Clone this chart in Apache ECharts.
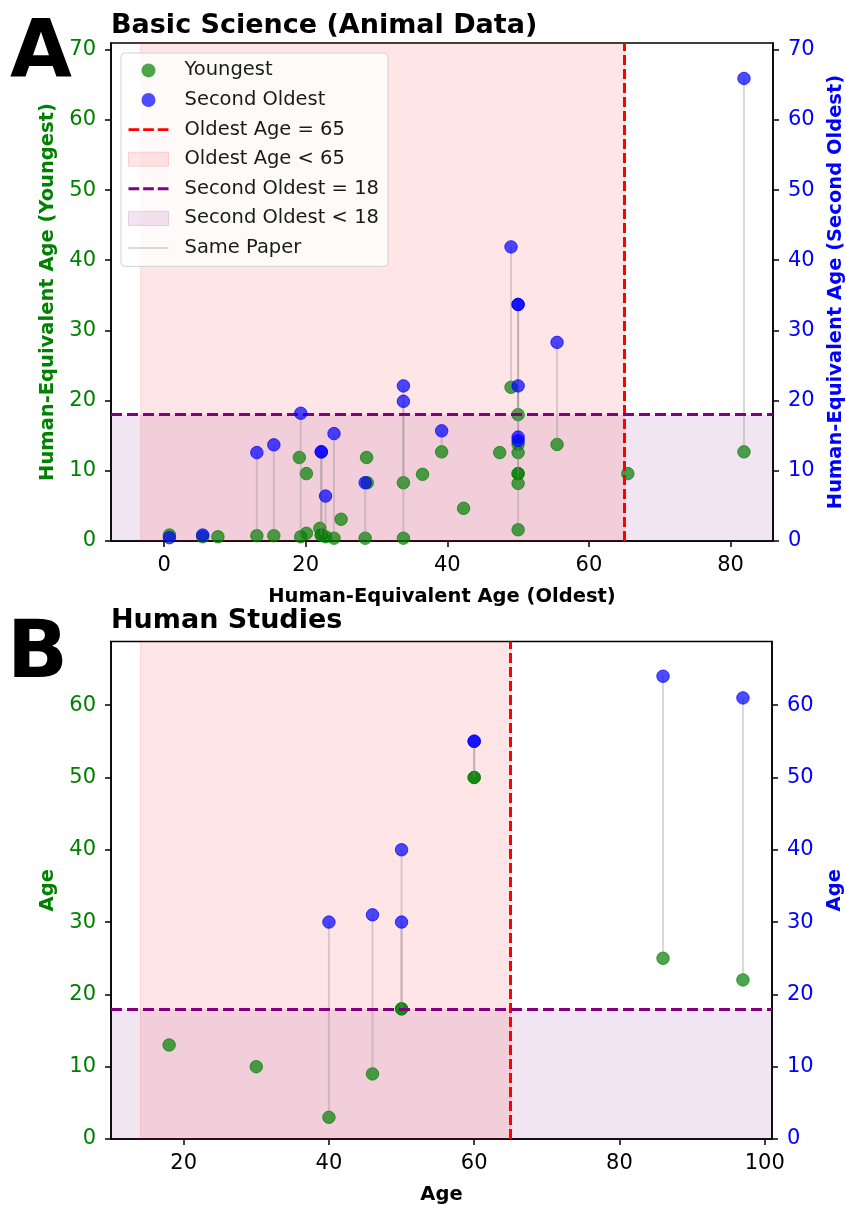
<!DOCTYPE html>
<html><head><meta charset="utf-8">
<script src="https://cdn.jsdelivr.net/npm/echarts@6/dist/echarts.min.js"></script>
<style>html,body{margin:0;padding:0;background:#fff}#c{width:846px;height:1206px}</style>
</head><body><div id="c"></div><script>
// ---- Panel A: Basic Science (Animal Data) ----
const animalOldest   = [0.75,5.45,7.6,13.1,15.5,19.3,19.1,20.1,20.1,22.0,22.2,22.2,22.8,24.0,25.0,28.6,28.7,28.4,33.8,33.8,36.5,39.2,42.3,47.4,49.0,50.0,50.0,50.0,50.0,50.0,50.0,50.0,55.5,65.5,81.9];
const animalYoungest = [0.85,0.6,0.6,0.75,0.75,0.6,11.9,9.6,1.1,1.8,0.85,0.85,0.6,0.4,3.1,11.9,8.3,0.4,0.4,8.3,9.5,12.7,4.65,12.6,21.9,1.6,18.0,13.8,12.6,9.6,9.6,8.2,13.75,9.6,12.7];
const animalSecond   = [0.47,0.85,null,12.6,13.7,18.2,null,null,null,null,12.7,12.7,6.4,15.3,null,null,null,8.3,22.1,19.9,null,15.7,null,null,41.9,33.7,33.7,22.1,14.8,14.3,null,null,28.3,null,65.9];
// ---- Panel B: Human Studies ----
const humanOldest   = [18,30,40,46,50,50,60,60,86,97];
const humanYoungest = [13,10,3,9,18,18,50,50,25,22];
const humanSecond   = [null,null,30,31,40,30,55,55,64,61];
// ticks
const xTicksA = [0,20,40,60,80];
const yTicksA = [0,10,20,30,40,50,60,70];
const xTicksB = [20,40,60,80,100];
const yTicksB = [0,10,20,30,40,50,60];
// thresholds
const oldestThreshold = 65;
const secondThreshold = 18;

const FONT = 'DejaVu Sans';
const GREEN = '#008000', BLUE = '#0000ff';
const GREEN_A = 'rgba(0,128,0,0.7)', BLUE_A = 'rgba(0,0,255,0.7)';

function build(oldest, young, second) {
  const y = oldest.map((x,i)=>[x, young[i]]);
  const s = [], p = [];
  oldest.forEach((x,i)=>{ if (second[i]!=null){ s.push([x, second[i]]); p.push([x, young[i], second[i]]); } });
  return {y, s, p};
}
const A = build(animalOldest, animalYoungest, animalSecond);
const B = build(humanOldest, humanYoungest, humanSecond);

function xAxis(gi, min, max, ticks, name) {
  return {
    gridIndex: gi, type: 'value', min, max, name, nameLocation: 'middle', nameGap: 46,
    nameTextStyle: {fontFamily: FONT, fontWeight: 'bold', fontSize: 19.5, color: '#000'},
    axisLine: {onZero: false, lineStyle: {color: '#000', width: 1.5}},
    axisTick: {customValues: ticks, length: 6, lineStyle: {color: '#000', width: 1.5}},
    axisLabel: {customValues: ticks, fontFamily: FONT, fontSize: 21, color: '#000', margin: 14},
    splitLine: {show: false}
  };
}
function yAxis(gi, pos, max, ticks, name, color) {
  return {
    gridIndex: gi, type: 'value', position: pos, min: 0, max, name, nameLocation: 'middle', nameGap: 52,
    nameTextStyle: {fontFamily: FONT, fontWeight: 'bold', fontSize: 19.5, color},
    axisLine: {show: true, onZero: false, lineStyle: {color: '#000', width: 1.5}},
    axisTick: {show: true, customValues: ticks, length: 6, lineStyle: {color: '#000', width: 1.5}},
    axisLabel: {customValues: ticks, fontFamily: FONT, fontSize: 21, color, margin: 15},
    splitLine: {show: false}
  };
}

function panelSeries(pi, D, spanStart) {
  const xi = pi, yl = pi*2, yr = pi*2+1;
  return [
    {name: 'Oldest Age < 65', type: 'scatter', xAxisIndex: xi, yAxisIndex: yl, data: [], z: 1,
     markArea: {silent: true, itemStyle: {color: 'rgba(255,0,0,0.1)', borderColor: 'rgba(255,0,0,0.12)', borderWidth: 1},
       data: [[{xAxis: spanStart}, {xAxis: oldestThreshold}]]}},
    {name: 'Second Oldest < 18', type: 'scatter', xAxisIndex: xi, yAxisIndex: yl, data: [], z: 1,
     markArea: {silent: true, itemStyle: {color: 'rgba(128,0,128,0.1)', borderWidth: 0},
       data: [[{yAxis: 0}, {yAxis: secondThreshold}]]}},
    {name: 'Oldest Age = 65', type: 'scatter', xAxisIndex: xi, yAxisIndex: yl, data: [], z: 2,
     markLine: {silent: true, symbol: 'none', label: {show: false},
       lineStyle: {color: '#ff0000', width: 3, type: [10, 4]}, data: [{xAxis: oldestThreshold}]}},
    {name: 'Second Oldest = 18', type: 'scatter', xAxisIndex: xi, yAxisIndex: yl, data: [], z: 2,
     markLine: {silent: true, symbol: 'none', label: {show: false},
       lineStyle: {color: '#800080', width: 3, type: [11, 5]}, data: [{yAxis: secondThreshold}]}},
    {name: 'Youngest', type: 'scatter', xAxisIndex: xi, yAxisIndex: yl, data: D.y, z: 3,
     symbolSize: 12.5, itemStyle: {color: GREEN_A, borderColor: GREEN_A, borderWidth: 1, opacity: 1}},
    {name: 'Same Paper', type: 'custom', xAxisIndex: xi, yAxisIndex: yl, data: D.p, z: 4,
     encode: {x: 0, y: [1, 2]},
     renderItem: function (params, api) {
       const a = api.coord([api.value(0), api.value(1)]);
       const b = api.coord([api.value(0), api.value(2)]);
       return {type: 'line', shape: {x1: a[0], y1: a[1], x2: b[0], y2: b[1]},
               style: {stroke: 'rgba(128,128,128,0.3)', lineWidth: 2}};
     }},
    {name: 'Second Oldest', type: 'scatter', xAxisIndex: xi, yAxisIndex: yr, data: D.s, z: 5,
     symbolSize: 12.5, itemStyle: {color: BLUE_A, borderColor: BLUE_A, borderWidth: 1, opacity: 1}}
  ];
}

const dash = 'path://M0,0H11V3H0Z M15,0H26V3H15Z M30,0H41V3H30Z';
const option = {
  animation: false,
  backgroundColor: '#fff',
  title: [
    {text: 'A', left: 10, top: 16, padding: 0, textStyle: {fontFamily: FONT, fontWeight: 'bold', fontSize: 80, lineHeight: 80, color: '#000'}},
    {text: 'Basic Science (Animal Data)', left: 111, top: 12, padding: 0, textStyle: {fontFamily: FONT, fontWeight: 'bold', fontSize: 27, lineHeight: 27, color: '#000'}},
    {text: 'B', left: 7, top: 616, padding: 0, textStyle: {fontFamily: FONT, fontWeight: 'bold', fontSize: 80, lineHeight: 80, color: '#000'}},
    {text: 'Human Studies', left: 111, top: 607, padding: 0, textStyle: {fontFamily: FONT, fontWeight: 'bold', fontSize: 27, lineHeight: 27, color: '#000'}}
  ],
  grid: [
    {left: 111, top: 43, width: 662, height: 498, show: true, borderColor: '#000', borderWidth: 1.5, backgroundColor: 'transparent', containLabel: false, outerBoundsMode: 'none'},
    {left: 111, top: 641.5, width: 661, height: 497.5, show: true, borderColor: '#000', borderWidth: 1.5, backgroundColor: 'transparent', containLabel: false, outerBoundsMode: 'none'}
  ],
  xAxis: [
    xAxis(0, -7.5, 86.0, xTicksA, 'Human-Equivalent Age (Oldest)'),
    xAxis(1, 10, 101, xTicksB, 'Age')
  ],
  yAxis: [
    yAxis(0, 'left', 70.95, yTicksA, 'Human-Equivalent Age (Youngest)', GREEN),
    yAxis(0, 'right', 70.95, yTicksA, 'Human-Equivalent Age (Second Oldest)', BLUE),
    yAxis(1, 'left', 68.8, yTicksB, 'Age', GREEN),
    yAxis(1, 'right', 68.8, yTicksB, 'Age', BLUE)
  ],
  legend: {
    orient: 'vertical', left: 121, top: 53, itemWidth: 40, itemHeight: 14, itemGap: 9.6,
    padding: [7.4, 9, 8.4, 7], backgroundColor: 'rgba(255,255,255,0.8)', borderColor: '#d3d3d3',
    borderWidth: 1, borderRadius: 4, selectedMode: false, symbolKeepAspect: true,
    textStyle: {fontFamily: FONT, fontSize: 19.5, lineHeight: 20, color: '#1a1a1a', padding: [0, 0, 0, 11]},
    data: [
      {name: 'Youngest', icon: 'circle', itemStyle: {color: GREEN_A, borderWidth: 0, opacity: 1}},
      {name: 'Second Oldest', icon: 'circle', itemStyle: {color: BLUE_A, borderWidth: 0, opacity: 1}},
      {name: 'Oldest Age = 65', icon: dash, itemStyle: {color: '#ff0000', borderWidth: 0, opacity: 1}},
      {name: 'Oldest Age < 65', icon: 'rect', itemStyle: {color: 'rgba(255,0,0,0.1)', borderColor: 'rgba(255,0,0,0.15)', borderWidth: 1, opacity: 1}},
      {name: 'Second Oldest = 18', icon: dash, itemStyle: {color: '#800080', borderWidth: 0, opacity: 1}},
      {name: 'Second Oldest < 18', icon: 'rect', itemStyle: {color: 'rgba(128,0,128,0.1)', borderColor: 'rgba(128,0,128,0.15)', borderWidth: 1, opacity: 1}},
      {name: 'Same Paper', icon: 'path://M0,0H40V2H0Z', itemStyle: {color: 'rgba(128,128,128,0.3)', borderWidth: 0, opacity: 1}}
    ]
  },
  series: [].concat(panelSeries(0, A, -3.3), panelSeries(1, B, 14.05))
};
const chart = echarts.init(document.getElementById('c'), null, {renderer: 'canvas'});
chart.setOption(option);
</script></body></html>
